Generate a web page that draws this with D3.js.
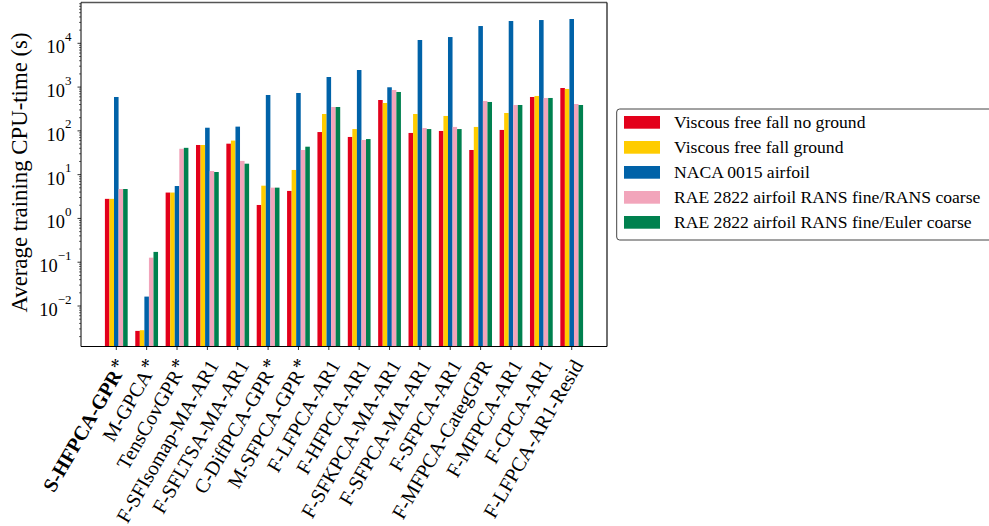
<!DOCTYPE html>
<html>
<head>
<meta charset="utf-8">
<script src="https://cdn.jsdelivr.net/npm/d3@7"></script>
<style>
  html, body { margin: 0; padding: 0; background: #fff; }
  svg { display: block; }
  text { font-family: "Liberation Serif", "Times New Roman", serif; fill: #000; }
</style>
</head>
<body>
<svg id="chart" width="989" height="526"></svg>
<script>
// ---------- data ----------
const categories = [
  "S-HFPCA-GPR*", "M-GPCA*", "TensCovGPR*", "F-SFIsomap-MA-AR1", "F-SFLTSA-MA-AR1",
  "C-DiffPCA-GPR*", "M-SFPCA-GPR*", "F-LFPCA-AR1", "F-HFPCA-AR1", "F-SFKPCA-MA-AR1",
  "F-SFPCA-MA-AR1", "F-SFPCA-AR1", "F-MFPCA-CategGPR", "F-MFPCA-AR1", "F-CPCA-AR1",
  "F-LFPCA-AR1-Resid"
];
const boldCategories = ["S-HFPCA-GPR*"];
const seriesNames = [
  "Viscous free fall no ground",
  "Viscous free fall ground",
  "NACA 0015 airfoil",
  "RAE 2822 airfoil RANS fine/RANS coarse",
  "RAE 2822 airfoil RANS fine/Euler coarse"
];
const seriesColors = ["#e3001b", "#ffcc00", "#0062a8", "#f2a5bb", "#00814f"];
const viscousNoGround = [2.8, 0.0027, 3.9, 47.6, 51, 2.03, 4.25, 94, 72.6, 507, 89.6, 99.5, 36.6, 105, 594, 953];
const viscousGround   = [2.8, 0.0028, 3.9, 47.6, 60, 5.6, 12.8, 243, 110, 433, 243, 219, 123, 256, 627, 906];
const naca0015        = [594, 0.0164, 5.5, 118, 125, 660, 733, 1700, 2455, 990, 11900, 13900, 24800, 32300, 34000, 35900];
const raeRansRans     = [4.7, 0.127, 39, 12.1, 20.6, 5.05, 36.6, 351, 62, 858, 116, 123, 482, 390, 564, 411];
const raeRansEuler    = [4.7, 0.172, 41, 11.5, 17.8, 5.05, 43.5, 351, 65, 773, 110, 110, 457, 390, 564, 390];
const seriesValues = [viscousNoGround, viscousGround, naca0015, raeRansRans, raeRansEuler];
const yTickExponents = [-2, -1, 0, 1, 2, 3, 4];
const yLabel = "Average training CPU-time (s)";

// ---------- layout ----------
const svg = d3.select("#chart");
const plot = { left: 81, right: 607, top: 2.5, bottom: 346.5 };
const barW = 0.15;
const n = categories.length;

const x = d3.scaleLinear()
  .domain([-1.1625, n - 1 + 1.1625])
  .range([plot.left, plot.right]);
const y = d3.scaleLog()
  .domain([Math.pow(10, -2.925), Math.pow(10, 4.932)])
  .range([plot.bottom, plot.top]);

// bars
const g = svg.append("g").attr("clip-path", "url(#clip)");
svg.append("clipPath").attr("id", "clip").append("rect")
  .attr("x", plot.left).attr("y", plot.top)
  .attr("width", plot.right - plot.left).attr("height", plot.bottom - plot.top);

seriesValues.forEach((vals, s) => {
  g.selectAll(null).data(vals).enter().append("rect")
    .attr("x", (d, i) => x(i + (s - 2) * barW - barW / 2))
    .attr("width", x(barW) - x(0))
    .attr("y", d => y(d))
    .attr("height", d => plot.bottom - y(d))
    .attr("fill", seriesColors[s]);
});

// y ticks (major + minor)
const yAxisG = svg.append("g");
const [lo, hi] = y.domain();
for (let e = -4; e <= 6; e++) {
  for (let m = 1; m <= 9; m++) {
    const v = m * Math.pow(10, e);
    if (v < lo || v > hi) continue;
    const py = y(v);
    yAxisG.append("line")
      .attr("x1", plot.left).attr("x2", plot.left - (m === 1 ? 3.5 : 2))
      .attr("y1", py).attr("y2", py)
      .attr("stroke", "#000").attr("stroke-width", m === 1 ? 0.8 : 0.6);
  }
}
yTickExponents.forEach(e => {
  const py = y(Math.pow(10, e));
  const t = yAxisG.append("text")
    .attr("x", 71.5).attr("y", py + 10)
    .attr("text-anchor", "end")
    .attr("font-size", 18.4);
  t.append("tspan").text("10");
  t.append("tspan").attr("dy", -12.5).attr("font-size", 13)
    .text(e < 0 ? "\u2212" + Math.abs(e) : String(e));
});

// x ticks + labels
const xAxisG = svg.append("g");
categories.forEach((c, i) => {
  const px = x(i);
  xAxisG.append("line")
    .attr("x1", px).attr("x2", px)
    .attr("y1", plot.bottom).attr("y2", plot.bottom + 3.5)
    .attr("stroke", "#000").attr("stroke-width", 0.8);
  const ax = px + 12, ay = plot.bottom + 18.5;
  const star = c.endsWith("*");
  const base = star ? c.slice(0, -1) : c;
  const t = xAxisG.append("text")
    .attr("transform", `translate(${ax},${ay}) rotate(-60)`)
    .attr("text-anchor", "end")
    .attr("font-size", 20.2)
    .attr("font-weight", boldCategories.includes(c) ? "bold" : "normal");
  t.append("tspan").text(base);
  if (star) {
    t.append("tspan").attr("dx", 1.5).attr("dy", -3).attr("font-weight", "normal").text("*");
  }
});

// frame
svg.append("line").attr("x1", plot.left).attr("x2", plot.right).attr("y1", plot.top).attr("y2", plot.top)
  .attr("stroke", "#555").attr("stroke-width", 1.3);
svg.append("line").attr("x1", plot.right).attr("x2", plot.right).attr("y1", plot.top).attr("y2", plot.bottom)
  .attr("stroke", "#222").attr("stroke-width", 1.3);
svg.append("line").attr("x1", plot.left).attr("x2", plot.right).attr("y1", plot.bottom).attr("y2", plot.bottom)
  .attr("stroke", "#000").attr("stroke-width", 1);
svg.append("line").attr("x1", plot.left).attr("x2", plot.left).attr("y1", plot.top).attr("y2", plot.bottom)
  .attr("stroke", "#000").attr("stroke-width", 1);

// y label
svg.append("text")
  .attr("transform", `translate(26.5,${(plot.top + plot.bottom) / 2 - 2}) rotate(-90)`)
  .attr("text-anchor", "middle")
  .attr("font-size", 22.8)
  .text(yLabel);

// legend
const leg = svg.append("g");
leg.append("rect")
  .attr("x", 616.7).attr("y", 109).attr("width", 380).attr("height", 131)
  .attr("rx", 3).attr("fill", "#fff").attr("stroke", "#444").attr("stroke-width", 1);
seriesNames.forEach((name, i) => {
  const cy = 122.3 + i * 25;
  leg.append("rect").attr("x", 624).attr("y", cy - 6.3).attr("width", 36).attr("height", 12.7)
    .attr("fill", seriesColors[i]);
  leg.append("text").attr("x", 674).attr("y", cy + 6).attr("font-size", 17.6).text(name);
});
</script>
</body>
</html>
